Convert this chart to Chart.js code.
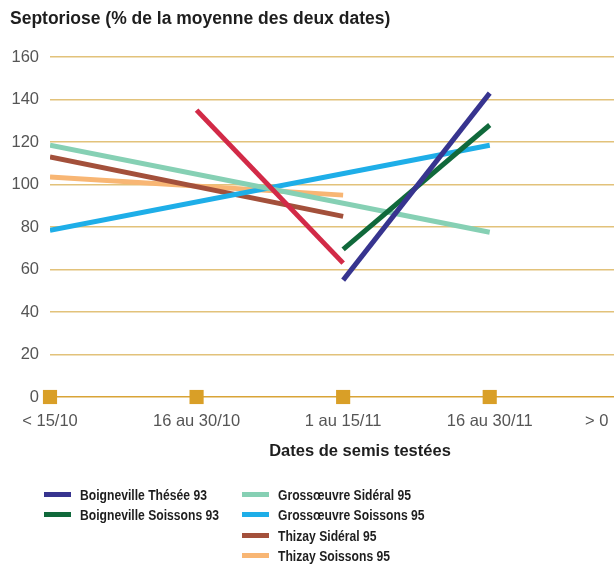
<!DOCTYPE html>
<html>
<head>
<meta charset="utf-8">
<script src="https://cdn.jsdelivr.net/npm/chart.js@4/dist/chart.umd.min.js"></script>
<style>
  html, body { margin: 0; padding: 0; background: #fff; width: 614px; height: 568px; overflow: hidden; }
  #wrap { position: relative; width: 614px; height: 568px; overflow: hidden; }
  #c { position: absolute; left: 0; top: 0; }
  #legend { position: absolute; left: 0; top: 0; width: 614px; height: 568px; pointer-events: none; }
  .item { position: absolute; display: flex; align-items: center; font-family: 'Liberation Sans', sans-serif; font-weight: bold; font-size: 15px; color: #1e1e1e; white-space: nowrap; }
  .sw { width: 27px; height: 5px; margin-right: 9px; flex: none; }
  .tx { display: inline-block; transform: scaleX(0.81); transform-origin: left center; }
</style>
</head>
<body>
<div id="wrap">
  <canvas id="c" width="680" height="463"></canvas>
  <div id="legend"></div>
</div>
<script>
// ---- data ----
const categories = ['< 15/10', '16 au 30/10', '1 au 15/11', '16 au 30/11', '> 0'];
const yTicks = [0, 20, 40, 60, 80, 100, 120, 140, 160];

const boignevilleThesee93   = [null, null, 55, 143];
const boignevilleSoissons93 = [null, null, 69.5, 128];
const grossoeuvreSideral95  = [118.5, null, null, 77.5];
const grossoeuvreSoissons95 = [78.5, null, null, 118.5];
const thizaySideral95       = [113, null, 85, null];
const thizaySoissons95      = [103.5, null, 95, null];
const unlabelledSeries      = [null, 135, 63, null];
const sowingMarkers         = [0, 0, 0, 0];

const seriesNames = ['Boigneville Thésée 93', 'Boigneville Soissons 93', 'Grossœuvre Sidéral 95',
                     'Grossœuvre Soissons 95', 'Thizay Sidéral 95', 'Thizay Soissons 95'];
const seriesValues = [boignevilleThesee93, boignevilleSoissons93, grossoeuvreSideral95,
                      grossoeuvreSoissons95, thizaySideral95, thizaySoissons95];
const seriesColors = ['#37348f', '#10693b', '#86d0b4', '#1eaee8', '#a3503b', '#f8b674'];

const chartTitle = 'Septoriose (% de la moyenne des deux dates)';
const xTitle = 'Dates de semis testées';

// ---- layout ----
const lastTickAt = 3.73;   // the last (cropped) category label sits near the right edge
const gold = '#e2c27a';
const goldZero = '#d9a436';

function toPoints(arr) {
  const pts = [];
  arr.forEach((v, i) => { if (v !== null) pts.push({ x: i, y: v }); });
  return pts;
}

const datasets = [];
datasets.push({
  label: '', data: toPoints(sowingMarkers), showLine: false,
  pointStyle: 'rect', pointRadius: 10, pointHoverRadius: 10,
  backgroundColor: '#d99f27', borderColor: '#d99f27', borderWidth: 0, clip: false
});
datasets.push({
  label: '', data: toPoints(unlabelledSeries), borderColor: '#d22a47',
  borderWidth: 5, pointRadius: 0, borderCapStyle: 'butt', fill: false
});
seriesNames.forEach((name, k) => {
  datasets.push({
    label: name, data: toPoints(seriesValues[k]), borderColor: seriesColors[k],
    backgroundColor: seriesColors[k], borderWidth: 5, pointRadius: 0,
    borderCapStyle: 'butt', fill: false
  });
});

new Chart(document.getElementById('c'), {
  type: 'line',
  data: { datasets },
  options: {
    responsive: false,
    animation: false,
    devicePixelRatio: 1,
    layout: { padding: { left: 10, right: 0, top: 0, bottom: 2 } },
    plugins: {
      legend: { display: false },
      tooltip: { enabled: false },
      title: {
        display: true, text: chartTitle, align: 'start', color: '#1e1e1e',
        font: { family: 'Liberation Sans', size: 17.5, weight: 'bold' },
        padding: { top: 9, bottom: 27 }
      }
    },
    scales: {
      x: {
        type: 'linear', min: 0, max: 4.23,
        afterBuildTicks: (s) => {
          s.ticks = categories.map((c, i) => ({ value: i === categories.length - 1 ? lastTickAt : i }));
        },
        afterFit: (s) => { s.height = 64; },
        grid: { display: false, drawTicks: false },
        border: { display: false },
        ticks: {
          autoSkip: false, maxRotation: 0, minRotation: 0, padding: 15,
          color: '#555', font: { family: 'Liberation Sans', size: 16.5 },
          callback: (v, i) => categories[i]
        },
        title: {
          display: true, text: xTitle, color: '#1e1e1e',
          font: { family: 'Liberation Sans', size: 16.5, weight: 'bold' },
          padding: { top: 0, bottom: 0 }
        }
      },
      y: {
        min: 0, max: 160,
        afterBuildTicks: (s) => { s.ticks = yTicks.map(v => ({ value: v })); },
        afterFit: (s) => { s.width = 40; },
        grid: {
          color: (ctx) => ctx.tick && ctx.tick.value === 0 ? goldZero : gold,
          lineWidth: 1.5, drawTicks: false
        },
        border: { display: false },
        ticks: { padding: 11, color: '#555', font: { family: 'Liberation Sans', size: 16.5 } }
      }
    }
  }
});

// ---- HTML legend (two columns, as in the reference) ----
const legend = document.getElementById('legend');
seriesNames.forEach((name, k) => {
  const col = k < 2 ? 0 : 1;
  const row = k < 2 ? k : k - 2;
  const item = document.createElement('div');
  item.className = 'item';
  item.style.left = (col === 0 ? 44 : 242) + 'px';
  item.style.top = (486 + row * 20.3) + 'px';
  const sw = document.createElement('span');
  sw.className = 'sw';
  sw.style.background = seriesColors[k];
  const tx = document.createElement('span');
  tx.className = 'tx';
  tx.textContent = name;
  item.appendChild(sw);
  item.appendChild(tx);
  legend.appendChild(item);
});
</script>
</body>
</html>
